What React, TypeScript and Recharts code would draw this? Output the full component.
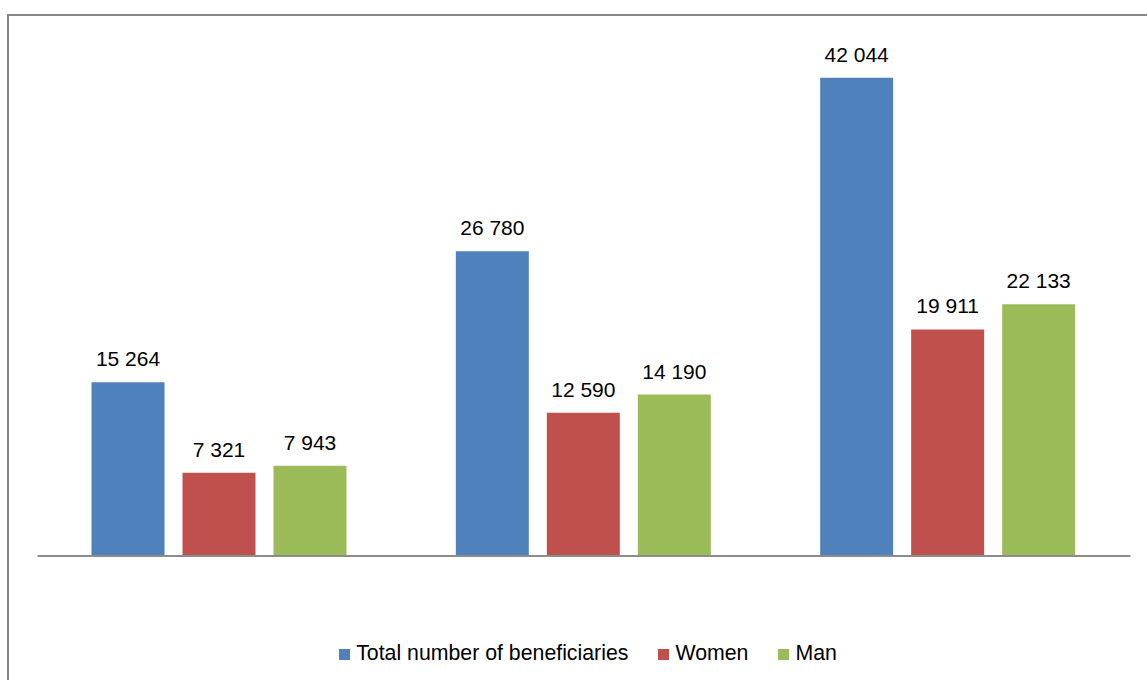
import React from 'react';
import { BarChart, Bar, XAxis, YAxis, Legend, LabelList } from 'recharts';

const categories = ['Group 1', 'Group 2', 'Group 3'];
const totalValues = [15264, 26780, 42044];
const womenValues = [7321, 12590, 19911];
const manValues = [7943, 14190, 22133];

const seriesNames = ['Total number of beneficiaries', 'Women', 'Man'];
const seriesKeys = ['total', 'women', 'man'];
const seriesColors = ['#4F81BD', '#C0504D', '#9BBB59'];

const data = categories.map((c, i) => ({
  name: c,
  total: totalValues[i],
  women: womenValues[i],
  man: manValues[i],
}));

const FONT = '"Liberation Sans", Arial, sans-serif';

const fmt = (v: any) =>
  String(v).replace(/\B(?=(\d{3})+(?!\d))/g, ' ');

const renderLegend = () => (
  <div
    style={{
      display: 'flex',
      justifyContent: 'center',
      alignItems: 'center',
      height: 34,
      fontFamily: FONT,
      fontSize: 21.3,
      color: '#000',
      paddingLeft: 8,
    }}
  >
    {seriesNames.map((n, i) => (
      <div
        key={n}
        style={{
          display: 'flex',
          alignItems: 'center',
          marginRight: i < seriesNames.length - 1 ? 30 : 0,
        }}
      >
        <span
          style={{
            display: 'inline-block',
            width: 11,
            height: 11,
            background: seriesColors[i],
            marginRight: 6,
            marginTop: 2,
          }}
        />
        <span>{n}</span>
      </div>
    ))}
  </div>
);

export default function App() {
  return (
    <div
      style={{
        position: 'absolute',
        left: 0,
        top: 0,
        width: 1147,
        height: 680,
        overflow: 'hidden',
        background: '#fff',
      }}
    >
      <div
        style={{
          position: 'absolute',
          left: 7,
          top: 14,
          width: 1200,
          height: 720,
          border: '2px solid #898989',
          boxSizing: 'border-box',
        }}
      />
      <div style={{ position: 'absolute', left: 0, top: 0 }}>
        <BarChart
          width={1147}
          height={680}
          data={data}
          margin={{ top: 44, right: 16.5, bottom: 10, left: 37.5 }}
          barCategoryGap={54}
          barGap={18}
        >
          <XAxis
            dataKey="name"
            tick={false}
            tickLine={false}
            height={80}
            axisLine={{ stroke: '#8c8c8c', strokeWidth: 2 }}
          />
          <YAxis hide domain={[0, 45000]} />
          <Legend
            verticalAlign="bottom"
            height={34}
            content={renderLegend}
          />
          {seriesKeys.map((k, i) => (
            <Bar
              key={k}
              dataKey={k}
              name={seriesNames[i]}
              fill={seriesColors[i]}
              isAnimationActive={false}
            >
              <LabelList
                dataKey={k}
                position="top"
                offset={16}
                formatter={fmt}
                style={{ fontFamily: FONT, fontSize: 21, fill: '#000' }}
              />
            </Bar>
          ))}
        </BarChart>
      </div>
    </div>
  );
}
